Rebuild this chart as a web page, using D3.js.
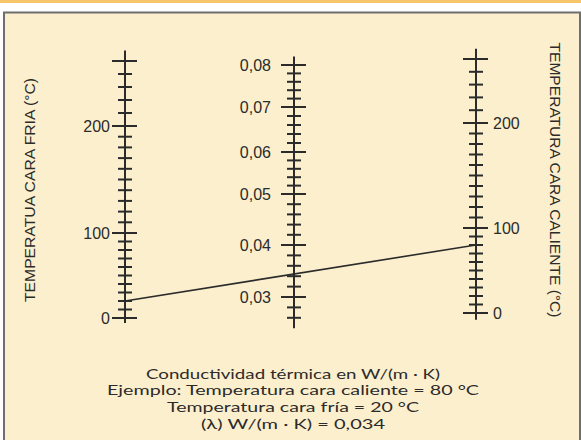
<!DOCTYPE html>
<html>
<head>
<meta charset="utf-8">
<script src="https://cdn.jsdelivr.net/npm/d3@7"></script>
<style>
  html, body { margin: 0; padding: 0; background: #ffffff; }
  svg { display: block; }
</style>
</head>
<body>
<svg id="chart" width="581" height="440"></svg>
<script>
// Nomograma: conductividad térmica frente a temperaturas de cara fría y caliente

// Escala izquierda: temperatura cara fría (°C)
const coldStops = [0, 100, 200, 250];
const coldLabels = [0, 100, 200];
const coldRange = [-6, 258];

// Escala central: conductividad térmica λ, W/(m·K)
const lambdaStops = [0.03, 0.04, 0.05, 0.06, 0.07, 0.08];
const lambdaLabels = ["0,03", "0,04", "0,05", "0,06", "0,07", "0,08"];
const lambdaRange = [0.024, 0.082];

// Escala derecha: temperatura cara caliente (°C)
const hotStops = [0, 100, 200, 250];
const hotLabels = [0, 100, 200];
const hotRange = [-8, 258];

// Ejemplo resuelto
const example = { cold: 20, hot: 80, lambda: 0.034 };

const captionLines = [
  "Conductividad térmica en W/(m · K)",
  "Ejemplo: Temperatura cara caliente = 80 °C",
  "Temperatura cara fría = 20 °C",
  "(λ) W/(m · K) = 0,034"
];
// anchura de cada línea del texto explicativo
const captionWidths = [294, 372, 252, 184];

const ink = "#2b2b2b";
const svg = d3.select("#chart");

// fondo y marco
svg.append("rect").attr("x", 0).attr("y", 0).attr("width", 581).attr("height", 3)
  .attr("fill", "#f6c56a");
svg.append("rect").attr("x", 4).attr("y", 12.5).attr("width", 576).attr("height", 440)
  .attr("fill", "#fcefcd").attr("stroke", "#6e6e6e").attr("stroke-width", 2);

// escalas no lineales (tramos leídos del nomograma)
const xCold = 125, xLambda = 294, xHot = 476;
const yCold = d3.scaleLinear().domain(coldStops).range([318, 233, 126, 61]);
const yHot = d3.scaleLinear().domain(hotStops).range([313, 228, 123, 59]);
const yLambda = d3.scaleLinear().domain(lambdaStops).range([297, 245, 194, 152, 107, 65]);

const coldMinor = d3.range(0, 251, 10).filter(v => !coldStops.includes(v));
const hotMinor = d3.range(0, 251, 10).filter(v => !hotStops.includes(v));
const lambdaMajorK = lambdaStops.map(v => Math.round(v * 1000));
const lambdaMinor = d3.range(26, 81, 2).filter(k => !lambdaMajorK.includes(k)).map(k => k / 1000);

function drawScale(x, scale, extent, majors, minors) {
  const g = svg.append("g").attr("stroke", ink).attr("fill", "none");
  g.append("line").attr("x1", x).attr("x2", x)
    .attr("y1", scale(extent[0])).attr("y2", scale(extent[1]))
    .attr("stroke-width", 2);
  g.selectAll(".maj").data(majors).join("line")
    .attr("x1", x - 13).attr("x2", x + 12)
    .attr("y1", d => scale(d)).attr("y2", d => scale(d))
    .attr("stroke-width", 2);
  g.selectAll(".min").data(minors).join("line")
    .attr("x1", x - 7).attr("x2", x + 7)
    .attr("y1", d => scale(d)).attr("y2", d => scale(d))
    .attr("stroke-width", 2);
  return g;
}

drawScale(xCold, yCold, coldRange, coldStops, coldMinor);
drawScale(xLambda, yLambda, lambdaRange, lambdaStops, lambdaMinor);
drawScale(xHot, yHot, hotRange, hotStops, hotMinor);

const labelFont = "Liberation Sans, Arial, sans-serif";

svg.append("g").selectAll("text").data(coldLabels).join("text")
  .attr("x", xCold - 15).attr("y", d => yCold(d)).attr("dy", "0.36em")
  .attr("text-anchor", "end").attr("font-family", labelFont).attr("font-size", 16)
  .attr("fill", ink).text(d => d);

svg.append("g").selectAll("text").data(lambdaStops).join("text")
  .attr("x", xLambda - 23).attr("y", d => yLambda(d)).attr("dy", "0.36em")
  .attr("text-anchor", "end").attr("font-family", labelFont).attr("font-size", 16)
  .attr("fill", ink).text((d, i) => lambdaLabels[i]);

svg.append("g").selectAll("text").data(hotLabels).join("text")
  .attr("x", xHot + 17).attr("y", d => yHot(d)).attr("dy", "0.36em")
  .attr("text-anchor", "start").attr("font-family", labelFont).attr("font-size", 16)
  .attr("fill", ink).text(d => d);

// títulos de los ejes de temperatura
svg.append("text")
  .attr("transform", "translate(35,190) rotate(-90)")
  .attr("text-anchor", "middle").attr("font-family", labelFont).attr("font-size", 15.5)
  .attr("fill", ink).attr("textLength", 224).attr("lengthAdjust", "spacingAndGlyphs")
  .text("TEMPERATUA CARA FRIA (°C)");

svg.append("text")
  .attr("transform", "translate(550,180) rotate(90)")
  .attr("text-anchor", "middle").attr("font-family", labelFont).attr("font-size", 15.5)
  .attr("fill", ink).attr("textLength", 275).attr("lengthAdjust", "spacingAndGlyphs")
  .text("TEMPERATURA CARA CALIENTE (°C)");

// recta del ejemplo: une las dos temperaturas y corta la escala central en λ
svg.append("line")
  .attr("x1", xCold).attr("y1", yCold(example.cold))
  .attr("x2", xHot).attr("y2", yHot(example.hot))
  .attr("stroke", ink).attr("stroke-width", 1.6);

// texto explicativo
svg.append("g").selectAll("text").data(captionLines).join("text")
  .attr("x", 293).attr("y", (d, i) => 378.5 + i * 16.8)
  .attr("text-anchor", "middle").attr("font-family", "Lato, sans-serif")
  .attr("font-size", 14).attr("fill", ink)
  .attr("textLength", (d, i) => captionWidths[i]).attr("lengthAdjust", "spacingAndGlyphs")
  .text(d => d);
</script>
</body>
</html>
